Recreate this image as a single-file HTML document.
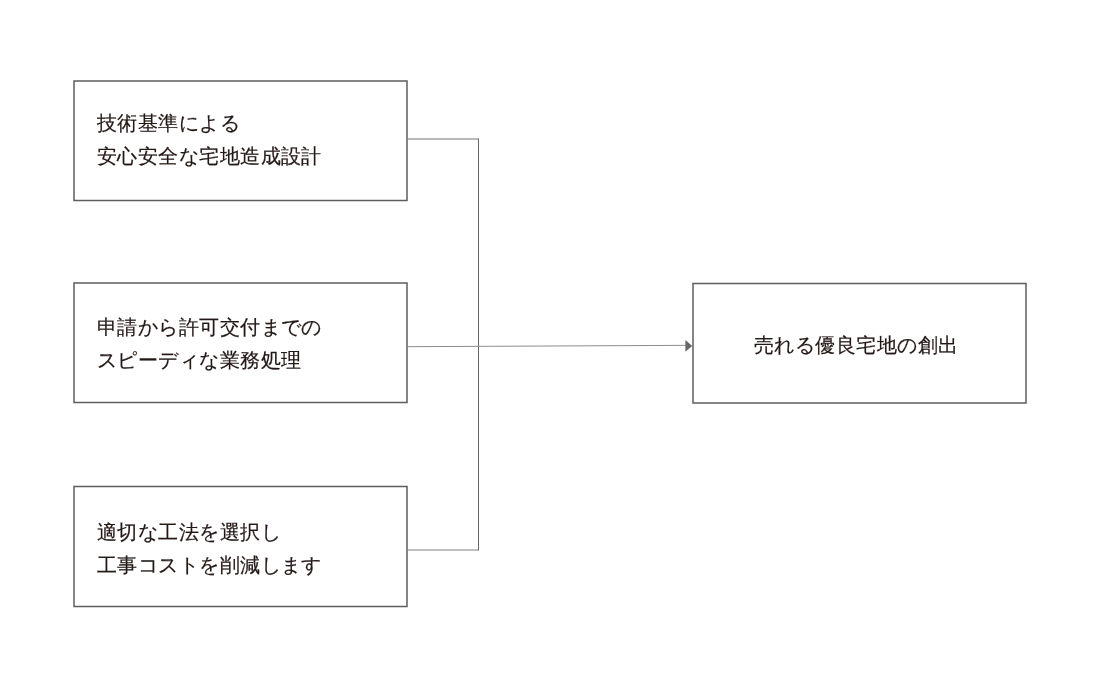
<!DOCTYPE html>
<html lang="ja">
<head>
<meta charset="utf-8">
<style>
html,body{margin:0;padding:0;background:#fff;width:1100px;height:700px;overflow:hidden;}
body{position:relative;font-family:"Liberation Serif",serif;color:#231815;}
svg{position:absolute;left:0;top:0;}
.t{position:absolute;font-size:20px;letter-spacing:0.45px;-webkit-text-stroke:0.2px #231815;line-height:33px;white-space:nowrap;will-change:transform;}
</style>
</head>
<body>
<svg width="1100" height="700" viewBox="0 0 1100 700">
  <g fill="none" stroke="#5e5e5e" stroke-width="1.5">
    <rect x="74" y="81" width="333" height="119.5"/>
    <rect x="74" y="283" width="333" height="119.5"/>
    <rect x="74" y="486.5" width="333" height="120"/>
    <rect x="693" y="283.5" width="333" height="119.5"/>
  </g>
  <g fill="none" stroke="#666" stroke-width="1">
    <line x1="407.75" y1="139" x2="478.5" y2="139" stroke="#727272"/>
    <line x1="478.5" y1="138.5" x2="478.5" y2="550.5"/>
    <line x1="407.75" y1="550" x2="478.5" y2="550" stroke="#7e7e7e"/>
    <line x1="407.75" y1="346.7" x2="686" y2="345.35" stroke="#8c8c8c"/>
  </g>
  <polygon points="685.4,340 692.2,345.9 685.4,351.8" fill="#666"/>
</svg>
<div class="t" style="left:97px;top:106.5px;">技術基準による<br>安心安全な宅地造成設計</div>
<div class="t" style="left:97px;top:311px;">申請から許可交付までの<br>スピーディな業務処理</div>
<div class="t" style="left:97px;top:516px;">適切な工法を選択し<br>工事コストを削減します</div>
<div class="t" style="left:753.5px;top:328.5px;">売れる優良宅地の創出</div>
</body>
</html>
